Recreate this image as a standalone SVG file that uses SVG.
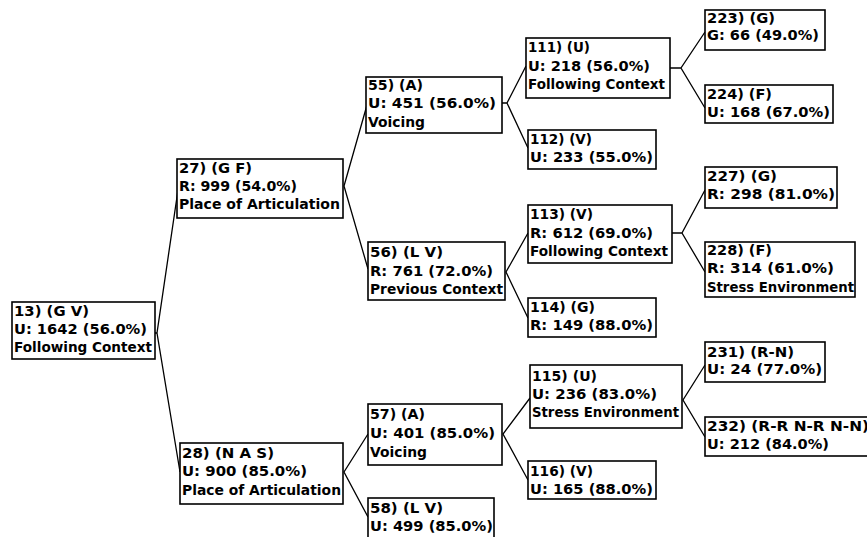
<svg xmlns="http://www.w3.org/2000/svg" width="867" height="537" viewBox="0 0 867 537">
<style>
rect.box{fill:#fff;stroke:#000;stroke-width:1.6}
.edge{fill:none;stroke:#000;stroke-width:1.3;stroke-linejoin:miter}
text{font-family:"DejaVu Sans","Liberation Sans",sans-serif;font-size:13.5px;font-weight:bold;fill:#000}
</style>
<rect width="867" height="537" fill="#fff"/>
<g id="connectors">
<path class="edge" d="M155,333 H157 M178,190 L157,333 L180,472"/>
<path class="edge" d="M367,105 L344,186 L368,269"/>
<path class="edge" d="M368,434 L344,472 L368,517"/>
<path class="edge" d="M502,103 H507 M526,66 L507,103 L528,148"/>
<path class="edge" d="M528,233 L506,272 L528,318"/>
<path class="edge" d="M530,398 L503,434 L528,480"/>
<path class="edge" d="M670,68 H681 M705,32 L681,68 L705,108"/>
<path class="edge" d="M672,233 H682 M705,190 L682,233 L705,272"/>
<path class="edge" d="M705,365 L683,400 L705,437"/>
</g>
<g id="node-13"><rect class="box" x="12" y="302" width="143" height="57"/>
<text x="14" y="316" textLength="75" lengthAdjust="spacingAndGlyphs">13) (G V)</text>
<text x="14" y="334" textLength="133" lengthAdjust="spacingAndGlyphs">U: 1642 (56.0%)</text>
<text x="14" y="352" textLength="138" lengthAdjust="spacingAndGlyphs">Following Context</text></g>
<g id="node-27"><rect class="box" x="177" y="159" width="166" height="59"/>
<text x="179" y="173" textLength="73" lengthAdjust="spacingAndGlyphs">27) (G F)</text>
<text x="179" y="191" textLength="118" lengthAdjust="spacingAndGlyphs">R: 999 (54.0%)</text>
<text x="179" y="209" textLength="161" lengthAdjust="spacingAndGlyphs">Place of Articulation</text></g>
<g id="node-28"><rect class="box" x="180" y="443" width="163" height="61"/>
<text x="182" y="458" textLength="92" lengthAdjust="spacingAndGlyphs">28) (N A S)</text>
<text x="182" y="476" textLength="125" lengthAdjust="spacingAndGlyphs">U: 900 (85.0%)</text>
<text x="182" y="495" textLength="159" lengthAdjust="spacingAndGlyphs">Place of Articulation</text></g>
<g id="node-55"><rect class="box" x="366" y="77" width="136" height="56"/>
<text x="368" y="90" textLength="55" lengthAdjust="spacingAndGlyphs">55) (A)</text>
<text x="368" y="108" textLength="128" lengthAdjust="spacingAndGlyphs">U: 451 (56.0%)</text>
<text x="368" y="127" textLength="57" lengthAdjust="spacingAndGlyphs">Voicing</text></g>
<g id="node-56"><rect class="box" x="368" y="242" width="137" height="58"/>
<text x="370" y="257" textLength="73" lengthAdjust="spacingAndGlyphs">56) (L V)</text>
<text x="370" y="276" textLength="123" lengthAdjust="spacingAndGlyphs">R: 761 (72.0%)</text>
<text x="370" y="294" textLength="133" lengthAdjust="spacingAndGlyphs">Previous Context</text></g>
<g id="node-57"><rect class="box" x="368" y="404" width="134" height="61"/>
<text x="370" y="419" textLength="55" lengthAdjust="spacingAndGlyphs">57) (A)</text>
<text x="370" y="438" textLength="125" lengthAdjust="spacingAndGlyphs">U: 401 (85.0%)</text>
<text x="370" y="457" textLength="57" lengthAdjust="spacingAndGlyphs">Voicing</text></g>
<g id="node-58"><rect class="box" x="368" y="498" width="126" height="50"/>
<text x="370" y="513" textLength="73" lengthAdjust="spacingAndGlyphs">58) (L V)</text>
<text x="370" y="531" textLength="123" lengthAdjust="spacingAndGlyphs">U: 499 (85.0%)</text></g>
<g id="node-111"><rect class="box" x="526" y="38" width="144" height="60"/>
<text x="528" y="52" textLength="62" lengthAdjust="spacingAndGlyphs">111) (U)</text>
<text x="528" y="71" textLength="122" lengthAdjust="spacingAndGlyphs">U: 218 (56.0%)</text>
<text x="528" y="89" textLength="137" lengthAdjust="spacingAndGlyphs">Following Context</text></g>
<g id="node-112"><rect class="box" x="528" y="130" width="128" height="39"/>
<text x="530" y="144" textLength="62" lengthAdjust="spacingAndGlyphs">112) (V)</text>
<text x="530" y="162" textLength="123" lengthAdjust="spacingAndGlyphs">U: 233 (55.0%)</text></g>
<g id="node-113"><rect class="box" x="528" y="205" width="144" height="58"/>
<text x="530" y="219" textLength="63" lengthAdjust="spacingAndGlyphs">113) (V)</text>
<text x="530" y="238" textLength="123" lengthAdjust="spacingAndGlyphs">R: 612 (69.0%)</text>
<text x="530" y="256" textLength="138" lengthAdjust="spacingAndGlyphs">Following Context</text></g>
<g id="node-114"><rect class="box" x="528" y="298" width="128" height="39"/>
<text x="530" y="312" textLength="65" lengthAdjust="spacingAndGlyphs">114) (G)</text>
<text x="530" y="330" textLength="123" lengthAdjust="spacingAndGlyphs">R: 149 (88.0%)</text></g>
<g id="node-115"><rect class="box" x="530" y="365" width="152" height="63"/>
<text x="532" y="381" textLength="65" lengthAdjust="spacingAndGlyphs">115) (U)</text>
<text x="532" y="399" textLength="125" lengthAdjust="spacingAndGlyphs">U: 236 (83.0%)</text>
<text x="532" y="417" textLength="147" lengthAdjust="spacingAndGlyphs">Stress Environment</text></g>
<g id="node-116"><rect class="box" x="528" y="461" width="128" height="38"/>
<text x="530" y="476" textLength="63" lengthAdjust="spacingAndGlyphs">116) (V)</text>
<text x="530" y="494" textLength="123" lengthAdjust="spacingAndGlyphs">U: 165 (88.0%)</text></g>
<g id="node-223"><rect class="box" x="705" y="10" width="120" height="40"/>
<text x="707" y="23" textLength="68" lengthAdjust="spacingAndGlyphs">223) (G)</text>
<text x="707" y="40" textLength="112" lengthAdjust="spacingAndGlyphs">G: 66 (49.0%)</text></g>
<g id="node-224"><rect class="box" x="705" y="85" width="128" height="38"/>
<text x="707" y="99" textLength="65" lengthAdjust="spacingAndGlyphs">224) (F)</text>
<text x="707" y="117" textLength="123" lengthAdjust="spacingAndGlyphs">U: 168 (67.0%)</text></g>
<g id="node-227"><rect class="box" x="705" y="167" width="132" height="41"/>
<text x="707" y="181" textLength="70" lengthAdjust="spacingAndGlyphs">227) (G)</text>
<text x="707" y="199" textLength="128" lengthAdjust="spacingAndGlyphs">R: 298 (81.0%)</text></g>
<g id="node-228"><rect class="box" x="705" y="242" width="150" height="55"/>
<text x="707" y="255" textLength="65" lengthAdjust="spacingAndGlyphs">228) (F)</text>
<text x="707" y="273" textLength="127" lengthAdjust="spacingAndGlyphs">R: 314 (61.0%)</text>
<text x="707" y="292" textLength="147" lengthAdjust="spacingAndGlyphs">Stress Environment</text></g>
<g id="node-231"><rect class="box" x="705" y="342" width="120" height="40"/>
<text x="707" y="357" textLength="87" lengthAdjust="spacingAndGlyphs">231) (R-N)</text>
<text x="707" y="374" textLength="115" lengthAdjust="spacingAndGlyphs">U: 24 (77.0%)</text></g>
<g id="node-232"><rect class="box" x="705" y="417" width="170" height="39"/>
<text x="707" y="431" textLength="162" lengthAdjust="spacingAndGlyphs">232) (R-R N-R N-N)</text>
<text x="707" y="449" textLength="122" lengthAdjust="spacingAndGlyphs">U: 212 (84.0%)</text></g>
</svg>
